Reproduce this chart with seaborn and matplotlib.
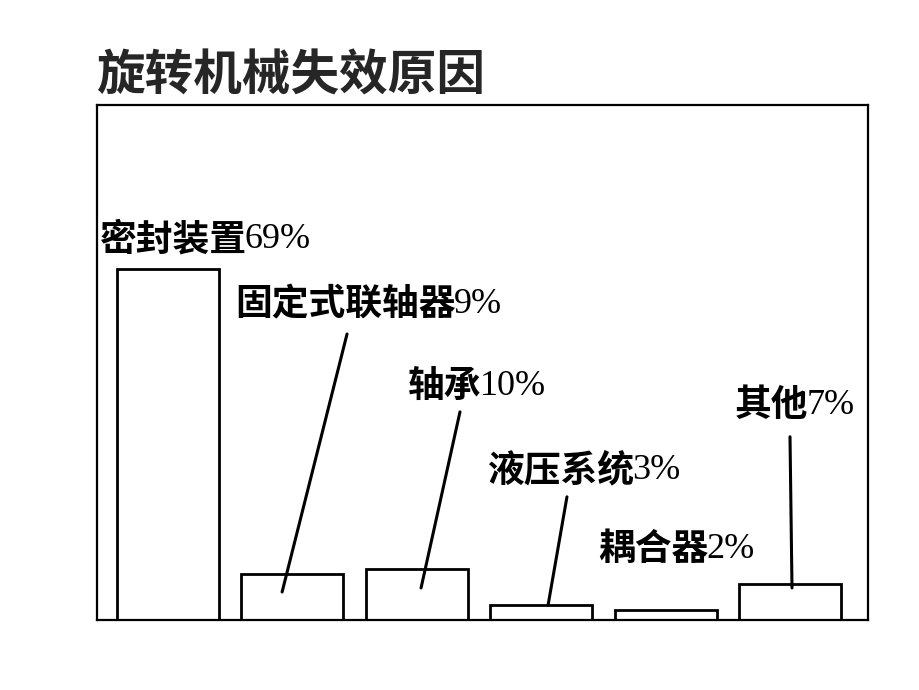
import numpy as np
import pandas as pd
import seaborn as sns
import matplotlib.pyplot as plt

# 数据
categories = ['密封装置', '固定式联轴器', '轴承', '液压系统', '耦合器', '其他']
values = [69, 9, 10, 3, 2, 7]
title = '旋转机械失效原因'

# 标签位置 (数据坐标: 左端x, 中心y) 及引线 (上端 -> 下端)
label_pos = [(-0.547, 74.7), (0.539, 62.0), (1.929, 45.8),
             (2.564, 29.3), (3.457, 13.8), (4.558, 42.2)]
leaders = [None,
           ((1.439, 56.2), (0.917, 5.5)),
           ((2.347, 40.9), (2.034, 6.3)),
           ((3.207, 24.2), (3.055, 2.9)),
           None,
           ((5.0, 36.0), (5.016, 6.3))]

df = pd.DataFrame({'cat': categories, 'val': values})

sns.set_style('white')
plt.rcParams['font.family'] = ['Noto Sans CJK SC', 'DejaVu Sans']

fig = plt.figure(figsize=(9.2, 6.9), dpi=100)
ax = fig.add_axes([97 / 920, 1 - 620 / 690, 771 / 920, 515 / 690])

sns.barplot(data=df, x='cat', y='val', ax=ax, color='white',
            edgecolor='black', linewidth=2, width=0.82, saturation=1)

ax.set_xlim(-0.571, 5.627)
ax.set_ylim(0, 101.2)
ax.set_xticks([])
ax.set_yticks([])
ax.set_xlabel('')
ax.set_ylabel('')
for s in ax.spines.values():
    s.set_visible(True)
    s.set_color('black')
    s.set_linewidth(1.6)

for i, (cat, v) in enumerate(zip(categories, values)):
    x, y = label_pos[i]
    t = ax.text(x, y, cat, fontsize=26.5, ha='left', va='center',
                color='black', weight='bold', clip_on=False)
    # 百分数用衬线字体
    ax.annotate(f'{v}%', xy=(1, 0.5), xycoords=t, xytext=(-1.5, 0),
                textcoords='offset points', ha='left', va='center',
                fontsize=26, family=['Liberation Serif'], color='black')
    if leaders[i] is not None:
        (x0, y0), (x1, y1) = leaders[i]
        ax.plot([x0, x1], [y0, y1], color='black', linewidth=2.2)

fig.text(97 / 920, 1 - 76 / 690, title, fontsize=35, ha='left', va='center',
         weight='bold')

fig.savefig('out.png', dpi=100, facecolor='white')
